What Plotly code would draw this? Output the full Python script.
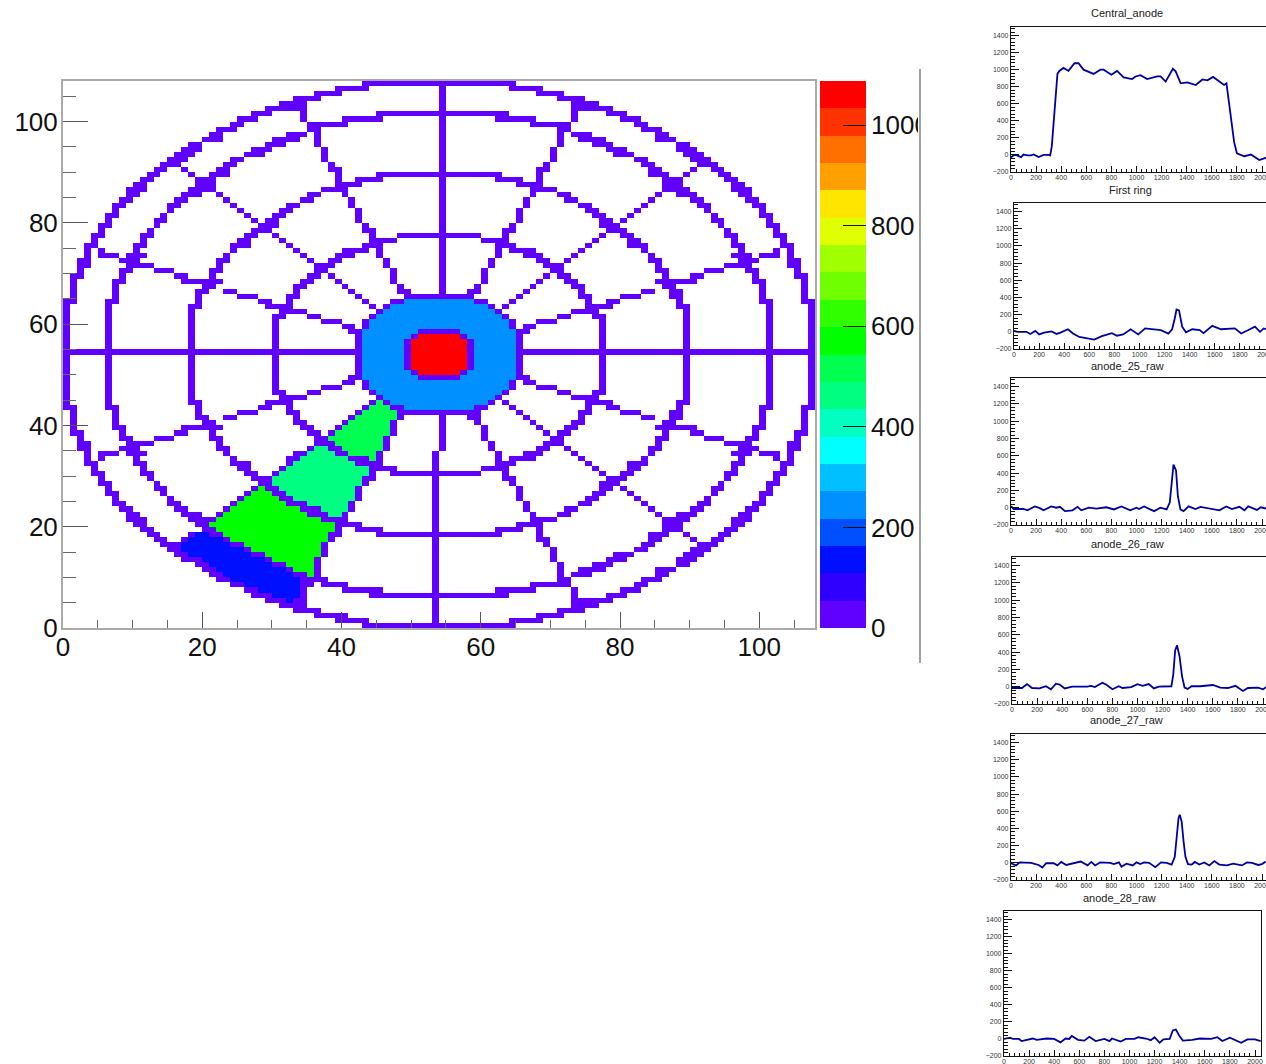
import plotly.graph_objects as go

W, H = 1266, 1064

# ---------- colour bands of the palette, bottom to top ----------
BAND_COLORS = ["#6000ff", "#3000ff", "#0010ff", "#0050ff", "#0090ff", "#00c0ff", "#00ffff",
               "#00ffc0", "#00ff80", "#00ff50", "#00ff00", "#30ff00", "#70ff00", "#a0ff00",
               "#e0ff00", "#ffe600", "#ffa000", "#ff7000", "#ff3300", "#ff0000"]
Z_MAX = 1088

# ---------- cell values (channel amplitude by letter) ----------
LEVELS = {"": 10, "b": 245, "r": 1070, "A": 515, "B": 460, "C": 570, "D": 140}

# ---------- detector map, one entry per row from the top, occupied columns ----------
ROWS = [
"43-64",
"39-43 54 64-68",
"36-39 54 68-71",
"33-36 54 71-74",
"31-34 54 73-76",
"29-32 33-34 54 73-74 75-78",
"27-29 34 45-63 73 78-80",
"25-27 34 40-45 54 62-67 73 80-82",
"24-25 35-40 54 67-72 82-83",
"22-24 35-36 54 71-72 83-85",
"21-22 32-34 36 54 71 73-75 85-86",
"20-22 30-33 36 54 71 74-77 85-87",
"18-19 29-31 36 54 71 76-78 88-89",
"17-19 27-29 37 54 70 78-80 88-90",
"16-18 26-28 37 54 70 79-81 89-91",
"15-17 24-25 37 54 70 82-83 90-92",
"14-16 23-24 38 54 69 83-84 91-93",
"13-14 17 22-23 38-39 54 68-69 84-85 90 93-94",
"12-13 18 21-23 39 45-62 68 84-86 89 94-95",
"11-12 19-21 39 42-45 54 62-65 68 86-88 95-96",
"10-11 19-21 39-42 54 65-68 86-88 96-97",
"9-11 18-21 37-40 54 67-70 86-89 96-98",
"9-10 17-19 22 35-36 40 54 67 71-72 85 88-90 97-98",
"8-9 16-17 23 34-35 41 54 66 72-73 84 90-91 98-99",
"7-8 15-16 24 32-33 41 54 66 74-75 83 91-92 99-100",
"7 15 25 31-32 42 54 65 75-76 82 92 100",
"6-7 14 26 30-31 42 54 65 76-77 81 93 100-101",
"6 13-14 27 29-30 42 54 65 77-78 80 93-94 101",
"5-6 13 28-30 43 54 64 77-79 94 101-102",
"5 12 27-29 43-44 54 63-64 78-80 95 102",
"4-5 11-12 26-27 30 44 48-59 63 77 80-81 95-96 102-103",
"4 11 25-26 31 44-47 54 60-63 76 81-82 96 103",
"3-4 10-11 24-26 32 43-45 54 62-64 75 81-83 96-97 103-104",
"3 5 10 24 33 40-43 45 54 62 64-67 74 83 97 102 104",
"3 5-7 9-11 23 34 39-41 45 54 62 66-68 73 84 96-98 100-102 104",
"2-3 8-10 22-23 35 38-39 46 54 61 68-69 72 84-85 97-99 104-105",
"2-3 9-12 22 36-38 46 54 61 69-71 85 95-98 104-105",
"2 8-9 13-15 21-22 36-37 47 54 60 70-71 85-86 92-94 98-99 105",
"1-2 8 16-17 21 35-36 38 47 54 60 69 71-72 86 90-91 99 105-106",
"1 7-8 17-22 34-35 39 47 54 60 68 72-73 85-90 99-100 106",
"1 7 20-21 33-34 40 48 54 59 67 73-74 86-87 100 106",
"1 7 19-20 23-24 33 41 48-49 54 58-59 66 74 83-84 87-88 100 106",
"1 7 19 25-27 32-33 42 49-58 65 74-75 80-82 87-88 100 106",
"0-1 6-7 19 28-29 32 43 47-48 b49-58 59-60 64 75 78-79 88 100-101 106-107",
"0 6 18-19 29-32 44 46 b47-60 61 63 75-78 88-89 101 107",
"0 6 18 31-34 45 b46-61 62 73-76 89 101 107",
"0 6 18 30-31 35-36 44 b45-62 63 71-72 76-77 89 101 107",
"0 6 18 30 37-39 43 b44-63 64 68-70 77 89 101 107",
"0 6 18 30 40-41 43 b44-63 64 66-67 77 89 101 107",
"0 6 18 30 41-42 b43-50 51-56 b57-64 65-66 77 89 101 107",
"0 6 18 30 42 b43-49 50 r51-56 57 b58-64 65 77 89 101 107",
"0 6 18 30 42 b43-48 49 r50-57 58 b59-64 65 77 89 101 107",
"0 6 18 30 42 b43-48 49 r50-57 58 b59-64 65 77 89 101 107",
"0-42 b43-48 49 r50-57 58 b59-64 65-107",
"0 6 18 30 42 b43-48 49 r50-57 58 b59-64 65 77 89 101 107",
"0 6 18 30 42 b43-48 49 r50-57 58 b59-64 65 77 89 101 107",
"0 6 18 30 42 b43-48 49 r50-57 58 b59-64 65 77 89 101 107",
"0 6 18 30 42 b43-49 50 r51-56 57 b58-64 65 77 89 101 107",
"0 6 18 30 41-42 b43-50 51-56 b57-64 65-66 77 89 101 107",
"0 6 18 30 40-41 43 b44-63 64 66-67 77 89 101 107",
"0 6 18 30 37-39 43 b44-63 64 68-70 77 89 101 107",
"0 6 18 30-31 35-36 44 b45-62 63 71-72 76-77 89 101 107",
"0 6 18 31-34 45 b46-61 62 73-76 89 101 107",
"0 6 18-19 29-32 44 A45 46 b47-60 61 63 75-78 88-89 101 107",
"0-1 6-7 19 28-29 32 43 A44-46 47-48 b49-58 59-60 64 75 78-79 88 100-101 106-107",
"1 7 19 25-27 32-33 42 A43-47 48-59 65 74-75 80-82 87-88 100 106",
"1 7 19-20 23-24 33 41 A42-47 48 54 58-59 66 74 83-84 87-88 100 106",
"1 7 20-21 33-34 40 A41-46 47 54 59 67 73-74 86-87 100 106",
"1 7-8 17-22 34-35 39 A40-46 47 54 60 68 72-73 85-90 99-100 106",
"1-2 8 16-17 21 35-36 38 A39-46 47 54 60 69 71-72 86 90-91 99 105-106",
"2 8-9 13-15 21-22 36-37 A38-45 46 54 60 70-71 85-86 92-94 98-99 105",
"2-3 9-12 22 36-38 A39-45 46 54 61 69-71 85 95-98 104-105",
"2-3 8-10 22-23 35 B36-37 38-39 A40-45 46 54 61 68-69 72 84-85 97-99 104-105",
"3 5-7 9-11 23 33-34 B35-38 39-40 A41-44 45 53 62 66-68 73 84 96-98 100-102 104",
"3 5 10 24 32-33 B34-40 41-43 A44 45 53 62 64-67 74 83 97 102 104",
"3-4 10-11 24-26 32 B33-41 42-45 53 62-64 75 81-83 96-97 103-104",
"4 11 25-26 31 B32-43 44-47 53 60-63 76 81-82 96 103",
"4-5 11-12 26-27 30 B31-43 44 47-59 63 77 80-81 95-96 102-103",
"5 12 27-29 B30-42 43-44 53 63-64 78-80 95 102",
"5-6 13 28-29 B30-42 43 53 64 77-79 94 101-102",
"6 13-14 27 C28 29-30 B31-41 42 53 65 77-78 80 93-94 101",
"6-7 14 26 C27-29 30-31 B32-41 42 53 65 76-77 81 93 100-101",
"7 15 25 C26-30 31-32 B33-41 42 53 65 75-76 82 92 100",
"7-8 15-16 24 C25-31 32-34 B35-40 41 53 66 74-75 83 91-92 99-100",
"8-9 16-17 23 C24-33 34-36 B37-40 41 53 66 72-73 84 90-91 98-99",
"9-10 17-19 22 C23-34 35-37 B38-39 40 53 67 71-72 85 88-90 97-98",
"9-11 18-21 C22-36 37-40 53 67-70 86-89 96-98",
"10-11 19-20 C21-38 39-42 53 65-68 86-88 96-97",
"11-12 20-21 C22-38 39 42-45 53 62-65 68 86-88 95-96",
"12-13 18 D19-20 21-22 C23-37 38-39 45-62 68 84-86 89 94-95",
"13-14 17 D18-22 23 C24-37 38 53 68-69 84-85 90 93-94",
"14-16 D17-23 24-25 C26-36 37 53 69 83-84 91-93",
"15-16 D17-25 26 C27-36 37 53 70 82-83 90-92",
"16-17 D18-26 27-28 C29-36 37 53 70 79-81 89-91",
"17-19 D20-28 29 C30-35 36 53 70 78-80 88-90",
"19-20 D21-29 30-31 C32-35 36 53 71 76-78 88-89",
"20-21 D22-31 32 C33-35 36 53 71 74-77 85-87",
"21-22 D23-32 33-34 C35 36 53 71 73-75 85-86",
"22-23 D24-33 34-37 53 71-72 83-85",
"24-25 D26-33 34-35 37-40 53 67-72 82-83",
"26-27 D28-33 34 40-45 53 62-67 73 80-82",
"27-29 D30-33 34 44-63 73 78-80",
"29-31 D32 33-34 53 73-74 75-78",
"31-34 53 73-76",
"33-36 53 71-74",
"36-40 53 68-71",
"39-43 53 64-68",
"43-64",
]

# ---------- waveforms ----------
TITLES = ["Central_anode", "First ring", "anode_25_raw", "anode_26_raw", "anode_27_raw", "anode_28_raw"]

central_x = [0, 20, 40, 60, 80, 100, 130, 160, 180, 220, 260, 300, 312, 325, 335, 345, 352, 362, 370, 385, 418, 458, 506, 538, 578, 658, 712, 738, 800, 845, 898, 965, 992, 1032, 1085, 1165, 1192, 1232, 1290, 1312, 1352, 1405, 1472, 1525, 1565, 1610, 1698, 1717, 1738, 1760, 1778, 1800, 1858, 1912, 1978, 2037]
central_y = [-30, -5, 0, -10, -25, 5, -5, -5, 5, -25, 0, 0, -5, 100, 300, 500, 700, 900, 950, 985, 1020, 985, 1075, 1075, 1000, 950, 1000, 1000, 940, 985, 910, 890, 920, 935, 890, 920, 920, 860, 1010, 980, 840, 850, 820, 885, 875, 915, 820, 840, 620, 350, 150, 20, -15, 5, -60, -30]

first_x = [0, 30, 100, 130, 170, 200, 240, 300, 340, 370, 430, 470, 520, 570, 640, 700, 780, 820, 870, 930, 990, 1045, 1100, 1170, 1230, 1260, 1280, 1295, 1315, 1340, 1370, 1420, 1480, 1510, 1580, 1650, 1760, 1810, 1880, 1920, 1960, 1990, 2035]
first_y = [10, 0, 0, -25, 10, -30, -10, 5, -25, -10, 30, -20, -60, -70, -90, -50, -15, -45, -30, 30, -30, 40, 30, 20, -20, 30, 150, 260, 250, 60, -5, 30, 20, -15, 70, 30, 40, -20, 30, 60, 0, 40, 20]

a25_x = [0, 20, 100, 130, 190, 230, 260, 320, 360, 390, 430, 490, 530, 560, 620, 680, 760, 820, 880, 950, 1000, 1020, 1060, 1140, 1190, 1240, 1265, 1280, 1295, 1315, 1330, 1350, 1375, 1415, 1470, 1510, 1600, 1660, 1715, 1760, 1820, 1860, 1890, 1960, 1990, 2035]
a25_y = [20, -15, -15, -30, 15, -5, -30, 15, 0, 10, -40, -30, 10, -30, 0, -10, 5, -20, 15, -30, 0, -15, 15, -40, 0, -20, 60, 320, 500, 430, 130, -20, -40, 15, -15, 10, -10, -30, 15, -15, 10, -30, 15, -25, 5, -10]

a26_x = [0, 80, 120, 160, 220, 270, 310, 350, 380, 420, 480, 600, 630, 660, 720, 750, 800, 850, 880, 950, 1000, 1040, 1090, 1130, 1170, 1270, 1285, 1300, 1315, 1335, 1355, 1375, 1400, 1430, 1500, 1600, 1660, 1720, 1780, 1840, 1880, 1960, 2000, 2035]
a26_y = [-15, -15, 30, -15, -20, 5, -30, 35, 25, -20, 0, 0, 10, -5, 45, 25, -30, 5, -15, -5, 30, 10, 30, -20, 0, 5, 140, 420, 480, 350, 120, -10, -25, 5, 5, 20, -10, -15, 10, -50, -15, -10, -30, 5]

a27_x = [0, 40, 70, 160, 220, 250, 280, 340, 370, 400, 440, 500, 555, 610, 640, 670, 710, 790, 820, 860, 880, 920, 970, 1000, 1030, 1060, 1100, 1150, 1195, 1240, 1280, 1305, 1320, 1335, 1345, 1360, 1375, 1390, 1410, 1440, 1465, 1500, 1540, 1580, 1620, 1660, 1720, 1770, 1840, 1880, 1920, 1970, 2000, 2030]
a27_y = [-5, -30, 5, 0, -25, -55, -5, -5, -30, 10, -25, -5, 15, -30, 10, -30, 5, 0, -15, 5, -45, -10, -30, 5, -15, 5, 0, -50, 5, 0, -20, 70, 290, 520, 560, 480, 250, 70, -15, -20, 10, -20, 5, -30, 20, -20, -30, -10, -30, 5, 0, -25, -15, 15]

a28_x = [0, 50, 70, 120, 140, 180, 230, 260, 340, 400, 450, 490, 520, 540, 590, 640, 680, 730, 800, 840, 860, 930, 970, 1040, 1070, 1130, 1170, 1200, 1240, 1270, 1320, 1345, 1370, 1400, 1425, 1500, 1560, 1650, 1700, 1740, 1800, 1890, 1940, 2000, 2045]
a28_y = [0, 15, 0, 0, -25, -10, 5, -10, 5, 0, -40, 5, 0, 35, -10, -20, 25, -25, 0, -25, 5, -30, 0, 0, 20, 5, -15, 20, -45, -5, 0, 100, 110, 30, -20, -10, 5, 0, 20, -25, 15, -45, -5, -5, -25]

WAVES = [(central_x, central_y), (first_x, first_y), (a25_x, a25_y),
         (a26_x, a26_y), (a27_x, a27_y), (a28_x, a28_y)]


def px(x):
    return x / W


def py(y):
    return 1 - y / H


# build the cell matrix from the rows
N = 108
z = [[None] * N for _ in range(N)]
for t, row in enumerate(ROWS):
    for tok in row.split():
        key = tok[0] if tok[0].isalpha() else ""
        part = tok[len(key):]
        a, _, b = part.partition("-")
        for c in range(int(a), int(b or a) + 1):
            z[N - 1 - t][c] = LEVELS[key]

n = len(BAND_COLORS)
scale = []
for i, col in enumerate(BAND_COLORS):
    scale.append([i / n, col])
    scale.append([(i + 1) / n, col])

fig = go.Figure()
fig.add_trace(go.Heatmap(z=z, x=[c + 0.5 for c in range(N)], y=[r + 0.5 for r in range(N)],
                         colorscale=scale, zmin=0, zmax=Z_MAX, showscale=False,
                         hoverongaps=False, xaxis="x", yaxis="y"))

band_h = Z_MAX / n
fig.add_trace(go.Heatmap(z=[[(i + 0.5) * band_h] for i in range(n)], x=[0.5],
                         y=[(i + 0.5) * band_h for i in range(n)],
                         colorscale=scale, zmin=0, zmax=Z_MAX, showscale=False,
                         xaxis="x2", yaxis="y2"))

FONT = "Liberation Sans"
BIG = dict(family=FONT, size=26, color="#111")
layout = dict(
    width=W, height=H, autosize=False, margin=dict(l=0, r=0, t=0, b=0, pad=0),
    paper_bgcolor="white", plot_bgcolor="white", showlegend=False,
    xaxis=dict(domain=[px(63), px(815)], range=[0, 108], dtick=20, tick0=0, ticks="inside", ticklen=16,
               tickcolor="#555", tickfont=BIG, linecolor="#aaa", linewidth=2, mirror=True, automargin=False,
               showgrid=False, zeroline=False, anchor="y", ticklabelstandoff=-5,
               minor=dict(ticks="inside", dtick=5, tick0=0, ticklen=8, tickcolor="#666", showgrid=False)),
    yaxis=dict(domain=[py(628), py(81)], range=[0, 108], dtick=20, tick0=0, ticks="inside", ticklen=25,
               tickcolor="#555", tickfont=BIG, linecolor="#aaa", linewidth=2, mirror=True, automargin=False,
               showgrid=False, zeroline=False, anchor="x", ticklabelstandoff=-2,
               minor=dict(ticks="inside", dtick=5, tick0=0, ticklen=13, tickcolor="#666", showgrid=False)),
    xaxis2=dict(domain=[px(820), px(866)], range=[0, 1], visible=False, anchor="y2", automargin=False),
    yaxis2=dict(domain=[py(628), py(81)], range=[0, Z_MAX], side="right", anchor="x2", dtick=200, tick0=0,
                ticks="inside", ticklen=23, tickcolor="#111", tickfont=BIG, showgrid=False,
                zeroline=False, showline=False, automargin=False, ticklabelstandoff=4),
)

PANELS = [(1011, 27, 172), (1014, 203, 349), (1011, 378, 525), (1012, 557, 704), (1011, 734, 880), (1004, 911, 1056)]
TITLE_POS = [(1127, 13), (1130, 190), (1127, 366), (1127, 544), (1126, 720), (1119, 898)]
TICK_FONT = dict(family=FONT, size=7, color="#333")
annotations = []
for i, ((left, top, bottom), (tx, ty), (wx, wy), name) in enumerate(zip(PANELS, TITLE_POS, WAVES, TITLES)):
    k = i + 3
    right = min(left + 257, W)
    fig.add_trace(go.Scatter(x=wx, y=wy, mode="lines", line=dict(color="#0000a0", width=1.8),
                             xaxis=f"x{k}", yaxis=f"y{k}"))
    layout[f"xaxis{k}"] = dict(domain=[px(left), px(right)], range=[0, (right - left) / 0.1255], dtick=200, tick0=0,
                               ticks="inside", ticklen=6, tickcolor="#111", tickfont=TICK_FONT, linecolor="#111",
                               linewidth=1.2, mirror=True, showgrid=False, zeroline=False, anchor=f"y{k}",
                               ticklabelstandoff=-2, automargin=False, ticklabeloverflow="allow",
                               minor=dict(ticks="inside", dtick=40, tick0=0, ticklen=3, tickcolor="#111", showgrid=False))
    layout[f"yaxis{k}"] = dict(domain=[py(bottom), py(top)], range=[-200, 1500], dtick=200, tick0=0,
                               ticks="inside", ticklen=8, tickcolor="#111", tickfont=TICK_FONT, linecolor="#111",
                               linewidth=1.2, mirror=(i == 5), showgrid=False, zeroline=False, anchor=f"x{k}",
                               automargin=False,
                               minor=dict(ticks="inside", dtick=40, tick0=0, ticklen=4, tickcolor="#111", showgrid=False))
    annotations.append(dict(text=name, x=px(tx), y=py(ty), xref="paper", yref="paper", showarrow=False,
                            xanchor="center", yanchor="middle", font=dict(family=FONT, size=11, color="#222")))

layout["annotations"] = annotations
layout["shapes"] = [
    dict(type="rect", xref="paper", yref="paper", x0=px(918), x1=px(950), y0=py(670), y1=py(60),
         fillcolor="white", line=dict(width=0), layer="above"),
    dict(type="line", xref="paper", yref="paper", x0=px(920), x1=px(920), y0=py(663), y1=py(69),
         line=dict(color="#888", width=1.6), layer="above"),
]
fig.update_layout(**layout)
fig.write_html("out.html", config={"displayModeBar": False},
               post_script="document.body.style.margin='0';document.documentElement.style.overflow='hidden';")
